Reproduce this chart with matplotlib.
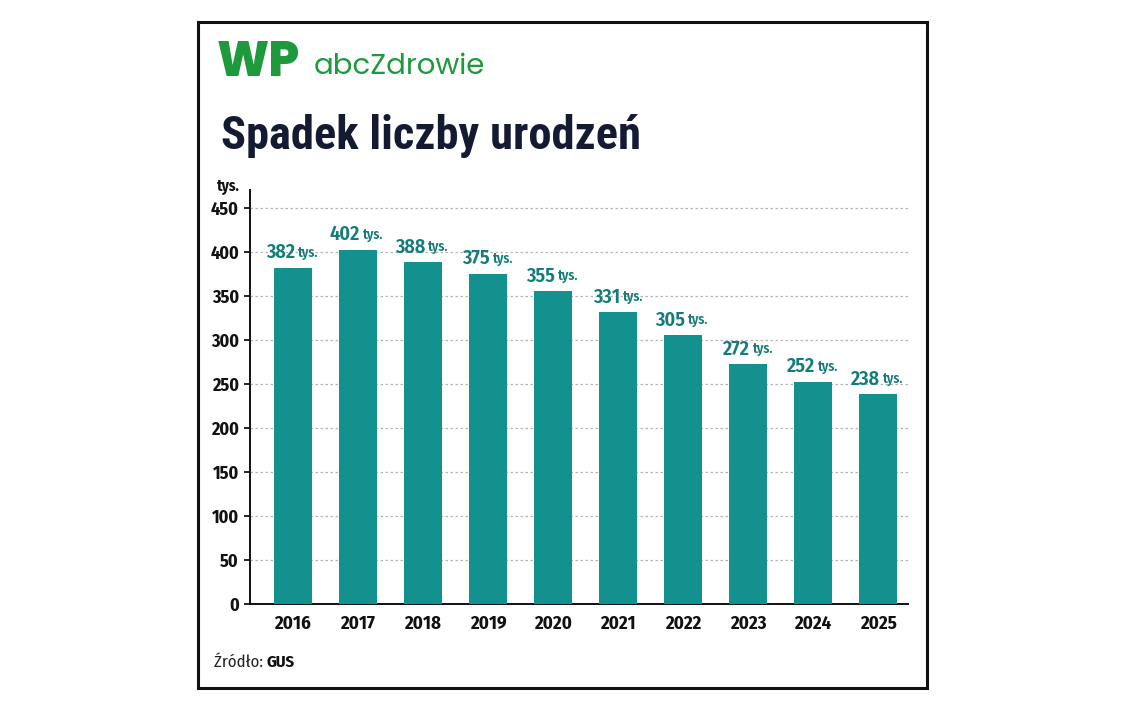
import matplotlib
matplotlib.use("Agg")
import matplotlib.pyplot as plt
from matplotlib.patches import Rectangle
from matplotlib import font_manager

years = ["2016", "2017", "2018", "2019", "2020", "2021", "2022", "2023", "2024", "2025"]
births = [382, 402, 388, 375, 355, 331, 305, 272, 252, 238]
yticks = [0, 50, 100, 150, 200, 250, 300, 350, 400, 450]

names = {f.name for f in font_manager.fontManager.ttflist}
def pick(*cands):
    for c in cands:
        if c in names:
            return c
    return "DejaVu Sans"

TITLE = pick("Roboto Condensed", "Barlow Condensed", "Fira Sans Condensed")
COND = pick("Fira Sans Condensed", "Roboto Condensed", "Barlow Semi Condensed")
LOGO = pick("Poppins", "Quicksand", "Nunito", "Lato")
plt.rcParams['font.family'] = [COND, 'DejaVu Sans']

BAR = "#13918f"
LAB = "#147c7b"
NAVY = "#151a33"
GREEN = "#1e9a3c"

fig = plt.figure(figsize=(11.31, 7.09), dpi=100)
W, H = 1131, 709

def fx(px): return px / W
def fy(py): return 1 - py / H

# frame
fig.patches.append(Rectangle((fx(198), fy(688)), fx(927) - fx(198), fy(22) - fy(688),
                             transform=fig.transFigure, fill=False, edgecolor="#111111", lw=2.2))

ax = fig.add_axes([fx(250), fy(604), fx(908) - fx(250), fy(190) - fy(604)])
x = list(range(len(years)))
ax.bar(x, births, width=0.58, color=BAR, zorder=3)
ax.set_xlim(-0.66, 9.46)
ax.set_ylim(0, 470)
ax.set_yticks(yticks)
ax.set_yticklabels([str(v) for v in yticks], fontsize=13, fontweight="bold", color="#111111")
ax.set_xticks(x)
ax.set_xticklabels(years, fontsize=13.5, fontweight="bold", color="#111111")
ax.tick_params(axis="y", length=4, width=1.2, pad=4)
ax.tick_params(axis="x", length=0, pad=8)
for s in ["top", "right"]:
    ax.spines[s].set_visible(False)
for s in ["left", "bottom"]:
    ax.spines[s].set_linewidth(1.4)
    ax.spines[s].set_color("#111111")
for v in yticks[1:]:
    ax.axhline(v, color="#b5b5b5", lw=0.9, ls=(0, (2, 2)), zorder=1)

for xi, v in zip(x, births):
    ax.annotate(str(v), (xi, v), xytext=(1.5, 4), textcoords="offset points",
                ha="right", va="bottom", fontsize=14.5, fontweight="semibold", color=LAB)
    ax.annotate("tys.", (xi, v), xytext=(3.3, 5.0), textcoords="offset points",
                ha="left", va="bottom", fontsize=10, fontweight="semibold", color=LAB)

fig.text(fx(217), fy(187), "tys.", fontsize=11, fontweight="bold", color="#111111",
         ha="left", va="center")

# logo
fig.text(fx(217), fy(65), "WP", fontsize=35, fontweight="heavy", color=GREEN,
         ha="left", va="center", family=[LOGO, "DejaVu Sans"])
fig.text(fx(314), fy(67), "abcZdrowie", fontsize=21, color=GREEN,
         ha="left", va="center", family=[LOGO, "DejaVu Sans"])

fig.text(fx(221), fy(136), "Spadek liczby urodzeń", fontsize=33.5, fontweight="heavy",
         color=NAVY, ha="left", va="center", family=[TITLE, "DejaVu Sans"])

t = fig.text(fx(214), fy(662), "Źródło: ", fontsize=12, color="#222222", ha="left", va="center")
fig.canvas.draw()
bb = t.get_window_extent()
fig.text(bb.x1 / W, fy(662), "GUS", fontsize=12, fontweight="bold", color="#111111",
         ha="left", va="center")

fig.savefig("out.png", dpi=100)
